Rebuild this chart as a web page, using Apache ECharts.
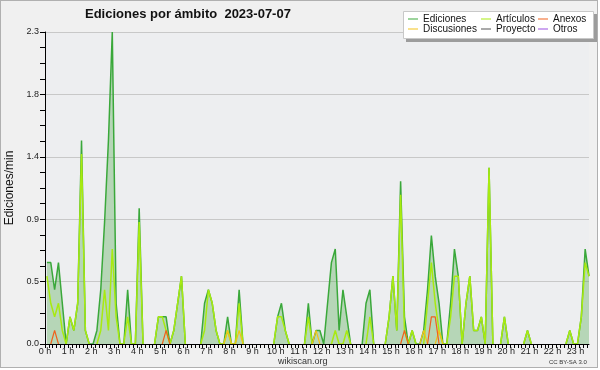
<!DOCTYPE html>
<html><head><meta charset="utf-8">
<script src="https://cdn.jsdelivr.net/npm/echarts/dist/echarts.min.js"></script>
<style>
html,body{margin:0;padding:0;background:#fff;}
#frame{position:absolute;left:0;top:0;width:598px;height:368px;box-sizing:border-box;background:#f0f0f0;border:1px solid #b0b0b0;}
#chart{position:absolute;left:0;top:0;width:600px;height:370px;}
</style></head><body>
<div id="frame"></div><div id="chart"></div>
<script>
// 10-minute slots from 00:00 to 23:30 (edits per minute)
const ediciones = [
0.6,0.6,0.4,0.6,0.3,0,0.2,0.1,0.3,1.5, 0.1,0,0,0.1,0.4,0.9,1.5,2.3,0.3,0,
0,0.4,0,0,1.0,0,0,0,0,0.2, 0.2,0.2,0,0.1,0.3,0.5,0,0,0,0,
0,0.3,0.4,0.3,0.1,0,0,0.2,0,0, 0.4,0,0,0,0,0,0,0,0,0,
0.2,0.3,0.1,0,0,0,0,0,0.3,0, 0.1,0.1,0,0.3,0.6,0.7,0.1,0.4,0.2,0,
0,0,0,0.3,0.4,0,0,0,0,0.2, 0.5,0.1,1.2,0.2,0,0.1,0,0,0.1,0.4,
0.8,0.5,0.3,0,0,0.3,0.7,0.5,0,0.3, 0.5,0.1,0.1,0.2,0,1.3,0,0,0,0.2,
0,0,0,0,0,0.1,0,0,0,0, 0,0,0,0,0,0,0.1,0,0,0.2,
0.7,0.5];
const articulos = [
0.5,0.3,0.2,0.3,0.1,0,0.2,0.1,0.3,1.4, 0.1,0,0,0,0.1,0.4,0.1,0.7,0.2,0,
0,0.2,0,0,0.9,0,0,0,0,0.2, 0.2,0.1,0,0.1,0.3,0.5,0,0,0,0,
0,0.1,0.4,0.3,0.1,0,0,0.1,0,0, 0.3,0,0,0,0,0,0,0,0,0,
0.2,0.2,0.1,0,0,0,0,0,0.2,0, 0,0,0,0,0,0.1,0,0,0.1,0,
0,0,0,0,0.2,0,0,0,0,0.2, 0.5,0.1,1.1,0.1,0,0.1,0,0,0,0.3,
0.6,0.3,0.1,0,0,0.2,0.5,0.5,0,0.3, 0.5,0.1,0.1,0.2,0,1.3,0,0,0,0.2,
0,0,0,0,0,0.1,0,0,0,0, 0,0,0,0,0,0,0.1,0,0,0.2,
0.6,0.5];
const anexos = [
0,0,0.1,0,0,0,0,0,0,0, 0,0,0,0,0,0,0,0,0,0,
0,0,0,0,0,0,0,0,0,0, 0,0.1,0,0,0,0,0,0,0,0,
0,0,0,0,0,0,0,0,0,0, 0,0,0,0,0,0,0,0,0,0,
0,0,0,0,0,0,0,0,0,0, 0,0,0,0,0,0,0,0,0,0,
0,0,0,0,0,0,0,0,0,0, 0,0,0,0.1,0,0,0,0,0,0,
0.2,0.2,0,0,0,0,0,0,0,0, 0,0,0,0,0,0,0,0,0,0,
0,0,0,0,0,0,0,0,0,0, 0,0,0,0,0,0,0,0,0,0,
0,0];
const discusiones = [
0,0,0,0,0,0,0,0,0,0, 0,0,0,0,0,0,0,0,0,0,
0,0,0,0,0,0,0,0,0,0, 0,0,0,0,0,0,0,0,0,0,
0,0,0,0,0,0,0,0.1,0,0, 0.1,0,0,0,0,0,0,0,0,0,
0,0,0,0,0,0,0,0,0,0, 0.1,0,0,0,0,0,0,0,0,0,
0,0,0,0,0,0,0,0,0,0, 0,0,0,0,0,0,0,0,0.1,0,
0,0,0.1,0,0,0,0,0,0,0, 0,0,0,0,0,0,0,0,0,0,
0,0,0,0,0,0,0,0,0,0, 0,0,0,0,0,0,0,0,0,0,
0,0];
const proyecto = [];
const otros = [];
const hourLabels = ['0 h','1 h','2 h','3 h','4 h','5 h','6 h','7 h','8 h','9 h','10 h','11 h',
  '12 h','13 h','14 h','15 h','16 h','17 h','18 h','19 h','20 h','21 h','22 h','23 h'];
const yTickLabels = ['0.0','0.5','0.9','1.4','1.8','2.3'];
const yMax = 2.3;

const FONT = 'Liberation Sans, Arial, sans-serif';
function pts(arr){
  return arr.map((v,i)=>{
    const z = v===0 && !(arr[i-1]>0) && !(arr[i+1]>0);
    return [i+0.5, z ? '-' : v];
  });
}
const chart = echarts.init(document.getElementById('chart'), null, {renderer:'canvas'});
const lineSeries = (name, arr, color, width, extra) => Object.assign({
  name, type:'line', data: pts(arr), symbol:'none', showSymbol:false, connectNulls:false,
  lineStyle:{color, width}, itemStyle:{color}, emphasis:{disabled:true}
}, extra||{});

chart.setOption({
  backgroundColor:'transparent',
  animation:false,
  title:{text:'Ediciones por ámbito  2023-07-07', left:85, top:8, padding:0,
    textStyle:{fontFamily:FONT, fontWeight:'bold', fontSize:13, color:'#111'}},
  grid:{left:45, right:11, top:32, bottom:26, show:true, backgroundColor:'#edeef0', borderWidth:0,
    containLabel:false, outerBoundsMode:'none'},
  legend:[
    {left:408, top:14, orient:'vertical', padding:0, itemGap:0, itemWidth:10, itemHeight:1, icon:'rect',
     data:['Ediciones','Discusiones'], textStyle:{fontFamily:FONT, fontSize:10, lineHeight:10, color:'#111'}, selectedMode:false},
    {left:481, top:14, orient:'vertical', padding:0, itemGap:0, itemWidth:10, itemHeight:1, icon:'rect',
     data:['Artículos','Proyecto'], textStyle:{fontFamily:FONT, fontSize:10, lineHeight:10, color:'#111'}, selectedMode:false},
    {left:538, top:14, orient:'vertical', padding:0, itemGap:0, itemWidth:10, itemHeight:1, icon:'rect',
     data:['Anexos','Otros'], textStyle:{fontFamily:FONT, fontSize:10, lineHeight:10, color:'#111'}, selectedMode:false}
  ],
  graphic:[
    {type:'rect', shape:{x:406,y:14,width:191,height:28}, style:{fill:'#9c9c9c'}, z:1, silent:true},
    {type:'rect', shape:{x:403.5,y:11.5,width:190,height:27}, style:{fill:'#ffffff', stroke:'#c8c8c8', lineWidth:1}, z:2, silent:true},
    {type:'text', left:278, top:357, style:{text:'wikiscan.org', font:'9px '+FONT, fill:'#333'}, silent:true},
    {type:'text', left:549, top:359, style:{text:'CC BY-SA 3.0', font:'6px '+FONT, fill:'#333'}, silent:true}
  ],
  xAxis:{type:'value', min:0, max:141.5, interval:1, z:5,
    axisLine:{onZero:false, lineStyle:{color:'#000', width:1}},
    axisTick:{length:4, lineStyle:{color:'#000'}},
    axisLabel:{fontFamily:FONT, fontSize:9, color:'#222', margin:3, showMaxLabel:false,
      formatter:(v)=> (Math.abs(v%6)<1e-9 ? (hourLabels[v/6]||'') : '')},
    splitLine:{show:false}},
  yAxis:{type:'value', min:0, max:yMax, interval:yMax/5,
    name:'Ediciones/min', nameLocation:'middle', nameGap:29,
    nameTextStyle:{fontFamily:FONT, fontSize:12, color:'#111'},
    axisLine:{show:true, lineStyle:{color:'#000'}},
    axisTick:{show:true, length:5, lineStyle:{color:'#000'}},
    minorTick:{show:true, splitNumber:4, length:5, lineStyle:{color:'#000'}},
    axisLabel:{fontFamily:FONT, fontSize:9, color:'#222', margin:6,
      formatter:(v)=> yTickLabels[Math.round(v/(yMax/5))]},
    splitLine:{show:true, lineStyle:{color:'#c8c8c8', width:1}}},
  series:[
    lineSeries('Ediciones', ediciones, '#3aa83a', 1.5, {areaStyle:{color:'rgba(83,170,80,0.5)'}, z:2}),
    lineSeries('Artículos', articulos, '#a8ea10', 1.5, {z:3}),
    lineSeries('Discusiones', discusiones, '#f2c21a', 1.2, {z:4}),
    lineSeries('Anexos', anexos, '#f0601c', 1.2, {z:4}),
    lineSeries('Proyecto', proyecto, '#555555', 1.2, {z:4}),
    lineSeries('Otros', otros, '#9a4fe0', 1.2, {z:4})
  ]
});
</script>
</body></html>
